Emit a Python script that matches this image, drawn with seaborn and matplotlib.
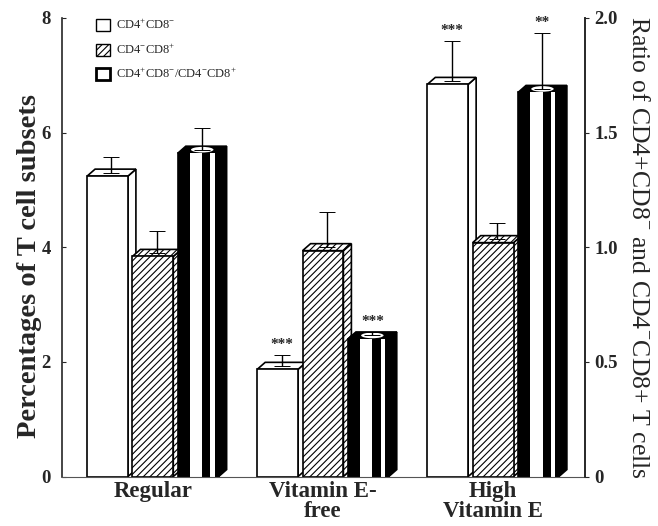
import matplotlib
matplotlib.use("Agg")
import matplotlib.pyplot as plt
import matplotlib.patches as mpatches
from matplotlib.container import BarContainer
import seaborn as sns
import pandas as pd
import numpy as np

# --- données ---
groups = ["Regular", "Vitamin E-\nfree", "High\nVitamin E"]
cd4_pos = [5.24, 1.87, 6.84]          # CD4+CD8- (%)
cd4_err = [0.33, 0.25, 0.75]
cd8_pos = [3.84, 3.94, 4.08]          # CD4-CD8+ (%)
cd8_err = [0.45, 0.68, 0.35]
ratio = [1.41, 0.60, 1.675]           # CD4+CD8-/CD4-CD8+ (axe droit)
ratio_err = [0.11, 0.03, 0.26]
stars_white = ["", "***", "***"]
stars_black = ["", "***", "**"]

series = ["white", "hatch", "black"]
left_max, right_max = 8, 2.0
scale = left_max / right_max  # ratio -> unités de l'axe gauche

df = pd.DataFrame({
    "group": groups * 3,
    "series": np.repeat(series, 3),
    "value": cd4_pos + cd8_pos + [r * scale for r in ratio],
})
errs = [cd4_err, cd8_err, [e * scale for e in ratio_err]]
stars = [stars_white, [""] * 3, stars_black]

sns.set_style("white")
plt.rcParams["font.family"] = ["Liberation Serif", "DejaVu Serif"]
plt.rcParams["mathtext.fontset"] = "custom"
plt.rcParams["mathtext.rm"] = "Liberation Serif"
plt.rcParams["hatch.linewidth"] = 0.8

fig = plt.figure(figsize=(6.58, 5.26), dpi=100)
ax = fig.add_axes([0.094, 0.094, 0.795, 0.872])

sns.barplot(data=df, x="group", y="value", hue="series", order=groups,
            hue_order=series, palette=["white", "white", "black"],
            width=0.8, gap=0.1, edgecolor="black", linewidth=1.2,
            legend=False, ax=ax, zorder=2)

ax.set_xlim(-0.535, 2.54)
ax.set_ylim(0, left_max)

bar_conts = [c for c in ax.containers if isinstance(c, BarContainer)]
dx, dy = 0.047, 0.122  # profondeur 3D
for k, cont in enumerate(bar_conts):
    for j, bar in enumerate(cont.patches):
        x0 = bar.get_x()
        w = bar.get_width()
        x1 = x0 + w
        h = bar.get_height()
        z = 2 + k * 0.1
        if k == 1:
            bar.set_hatch("/////")
        face = "white" if k < 2 else "black"
        hatch = "/////" if k == 1 else None
        side = mpatches.Polygon([(x1, 0), (x1 + dx, dy), (x1 + dx, h + dy), (x1, h)],
                                closed=True, fc=face, ec="black", lw=1.2,
                                hatch=hatch, zorder=z - 0.05)
        top = mpatches.Polygon([(x0, h), (x0 + dx, h + dy), (x1 + dx, h + dy), (x1, h)],
                               closed=True, fc=face, ec="black", lw=1.2,
                               hatch=hatch, zorder=z - 0.05)
        ax.add_patch(side)
        ax.add_patch(top)
        bar.set_zorder(z)
        if k == 2:
            # reflets du cylindre noir
            ax.add_patch(mpatches.Rectangle((x0 + 0.30 * w, 0), 0.30 * w, h,
                                            fc="white", ec="none", zorder=z + 0.01))
            ax.add_patch(mpatches.Rectangle((x0 + 0.80 * w, 0), 0.10 * w, h,
                                            fc="white", ec="none", zorder=z + 0.01))
            ax.add_patch(mpatches.Ellipse((x0 + 0.5 * w + dx / 2, h + dy / 2),
                                          0.55 * w, dy * 0.8, fc="white",
                                          ec="none", zorder=z + 0.01))
        # barre d'erreur (partie haute seulement)
        xc = x0 + w / 2 + dx / 2
        y0 = h + dy / 2
        e = errs[k][j]
        ax.errorbar([xc], [y0], yerr=[[0], [e - dy / 2]], fmt="none",
                    ecolor="black", elinewidth=1.0, capsize=6, capthick=0.7,
                    zorder=5)
        if stars[k][j]:
            ax.annotate(stars[k][j], (xc, h + e), xytext=(0, 3),
                        textcoords="offset points", ha="center", va="bottom",
                        fontsize=11, fontweight="bold")

# axes
ax.spines["top"].set_visible(False)
ax.spines["left"].set_linewidth(1.2)
ax.spines["right"].set_linewidth(1.2)
ax.spines["bottom"].set_linewidth(0.8)
ax.spines["bottom"].set_color("#555555")
ax.set_yticks([0, 2, 4, 6, 8])
ax.set_yticklabels(["0", "2", "4", "6", "8"], fontweight="bold", fontsize=13.5)
ax.tick_params(axis="y", direction="in", length=3, width=0.8, left=True, pad=8)
ax.tick_params(axis="x", length=0, pad=3)
ax.set_xticks(range(3))
ax.set_xticklabels(groups, fontweight="bold", fontsize=16.5, linespacing=0.95)
ax.set_xlabel("")
ax.set_ylabel("Percentages of T cell subsets", fontsize=20.5, fontweight="bold")
ax.yaxis.set_label_coords(-0.038, 0.46)

ax2 = ax.twinx()
ax2.set_ylim(0, right_max)
ax2.set_yticks([0, 0.5, 1.0, 1.5, 2.0])
ax2.set_yticklabels(["0", "0.5", "1.0", "1.5", "2.0"], fontweight="bold", fontsize=13.5)
ax2.tick_params(axis="y", direction="out", length=3, width=0.8, right=True, pad=4)
for s in ["top", "left", "bottom"]:
    ax2.spines[s].set_visible(False)
ax2.spines["right"].set_linewidth(1.2)
ax2.set_ylabel("Ratio of CD4+CD8$^{-}$ and CD4$^{-}$CD8+ T cells", fontsize=18.5,
               rotation=270, labelpad=22)

# légende
h_white = mpatches.Patch(fc="white", ec="black", lw=1.0)
h_hatch = mpatches.Patch(fc="white", ec="black", lw=1.0, hatch="/////")
h_black = mpatches.Patch(fc="white", ec="black", lw=2.0)
leg = ax.legend([h_white, h_hatch, h_black],
                ["CD4$^{+}$CD8$^{-}$", "CD4$^{-}$CD8$^{+}$",
                 "CD4$^{+}$CD8$^{-}$/CD4$^{-}$CD8$^{+}$"],
                loc="upper left", bbox_to_anchor=(0.065, 1.0), frameon=False,
                fontsize=9, handlelength=1.1, handleheight=1.1,
                labelspacing=0.8, handletextpad=0.5, borderpad=0,
                borderaxespad=0)

fig.savefig("out.png", dpi=100)
